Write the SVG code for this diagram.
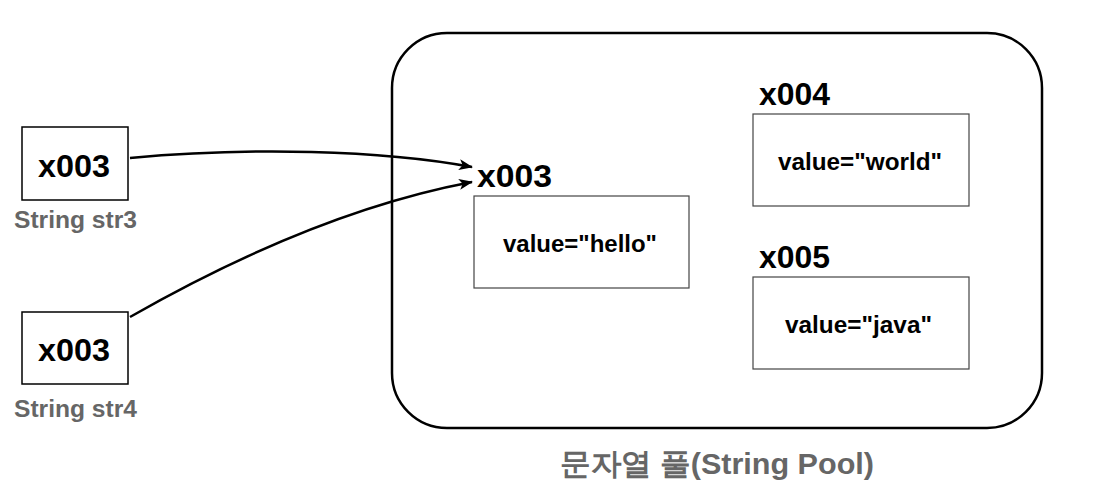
<svg xmlns="http://www.w3.org/2000/svg" width="1093" height="504" viewBox="0 0 1093 504">
<style>
.b{font-family:"Liberation Sans",Arial,sans-serif;font-weight:bold;}
.var{fill:#fff;stroke:#000;stroke-width:1.5;}
.obj{fill:#fff;stroke:#444;stroke-width:1.2;}
.gray{fill:#666;}
.con{fill:none;stroke:#000;stroke-width:2.5;}
</style>
<defs>
<marker id="arr" viewBox="0 0 14 12" refX="13" refY="6" markerWidth="14" markerHeight="12" markerUnits="userSpaceOnUse" orient="auto">
<path d="M0,0.5 L14,6 L0,11.5 L3.5,6 Z" fill="#000"/>
</marker>
</defs>
<rect width="1093" height="504" fill="#fff"/>
<g id="pool">
<rect x="392" y="33" width="650" height="395" rx="55" ry="55" fill="#fff" stroke="#000" stroke-width="2.5"/>
<text class="b gray" x="560" y="474" font-size="30" textLength="314" lengthAdjust="spacingAndGlyphs" font-family="'Liberation Sans','Noto Sans CJK KR',sans-serif">문자열 풀(String Pool)</text>
</g>
<g id="str3">
<rect class="var" x="22" y="127" width="106" height="73"/>
<text class="b" x="38" y="177" font-size="32" textLength="72" lengthAdjust="spacingAndGlyphs">x003</text>
<text class="b gray" x="14" y="228" font-size="23" textLength="123" lengthAdjust="spacingAndGlyphs">String str3</text>
</g>
<g id="str4">
<rect class="var" x="22" y="312" width="106" height="72"/>
<text class="b" x="38" y="361" font-size="32" textLength="72" lengthAdjust="spacingAndGlyphs">x003</text>
<text class="b gray" x="14" y="417" font-size="23" textLength="123" lengthAdjust="spacingAndGlyphs">String str4</text>
</g>
<g id="hello">
<text class="b" x="477" y="187" font-size="31" textLength="75" lengthAdjust="spacingAndGlyphs">x003</text>
<rect class="obj" x="474" y="196" width="215" height="92"/>
<text class="b" x="503" y="252" font-size="24" textLength="154" lengthAdjust="spacingAndGlyphs">value="hello"</text>
</g>
<g id="world">
<text class="b" x="759" y="105" font-size="31" textLength="71" lengthAdjust="spacingAndGlyphs">x004</text>
<rect class="obj" x="753" y="114" width="216" height="92"/>
<text class="b" x="778" y="170" font-size="24" textLength="164" lengthAdjust="spacingAndGlyphs">value="world"</text>
</g>
<g id="java">
<text class="b" x="759" y="268" font-size="31" textLength="71" lengthAdjust="spacingAndGlyphs">x005</text>
<rect class="obj" x="753" y="277" width="216" height="92"/>
<text class="b" x="785" y="333" font-size="24" textLength="147" lengthAdjust="spacingAndGlyphs">value="java"</text>
</g>
<g id="connectors">
<path class="con" d="M130,158 C250,147 380,150 472,167" marker-end="url(#arr)"/>
<path class="con" d="M130,317 C230,260 350,205 472,182" marker-end="url(#arr)"/>
</g>
</svg>
